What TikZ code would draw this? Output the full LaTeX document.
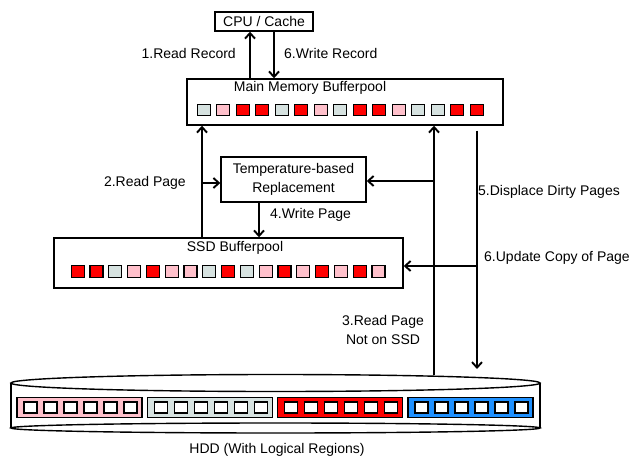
\documentclass[tikz,border=0pt]{standalone}
\usepackage{fontspec}
\setmainfont{Liberation Sans}
\usetikzlibrary{arrows.meta}
\definecolor{pk}{RGB}{255,192,203}
\definecolor{gy}{RGB}{214,226,224}
\definecolor{rd}{RGB}{255,0,0}
\definecolor{bl}{RGB}{30,144,255}
\begin{document}
\begin{tikzpicture}[x=1pt,y=-1pt,font=\fontsize{14}{19}\selectfont,
  box/.style={draw,line width=1.4pt,inner sep=0pt},
  arr/.style={line width=2pt,-{Straight Barb[length=5.5pt,width=10pt,line width=1.9pt]}},
  lbl/.style={inner sep=0pt},
  sq/.style={draw,line width=1.2pt,minimum width=13pt,minimum height=11.5pt,inner sep=0pt},
  region/.style={draw,line width=1.3pt,minimum width=125pt,minimum height=20pt,inner sep=0pt},
  hsq/.style={draw,fill=white,line width=1.3pt,minimum width=13pt,minimum height=11pt,inner sep=0pt},
  cyl/.style={line width=1.4pt}]
\useasboundingbox (0,0) rectangle (637,460);

% boxes
\node[box,minimum width=98pt,minimum height=19pt] (cpu) at (264,21.5) {CPU / Cache};
\node[box,minimum width=316pt,minimum height=46pt] (mm) at (345,102) {};
\node[lbl] (mmt) at (310,88) {Main Memory Bufferpool};
\foreach \c [count=\i from 0] in {gy,pk,rd,rd,gy,rd,pk,gy,rd,rd,pk,gy,gy,rd,rd}
  \node[sq,fill=\c] (m\i) at (203.75+19.5*\i,110) {};

\node[box,minimum width=145pt,minimum height=45pt,align=center] (tmp) at (293.5,179.5) {Temperature-based\\Replacement};

\node[box,minimum width=349pt,minimum height=50pt] (ssd) at (228.5,263) {};
\node[lbl] (ssdt) at (235,248) {SSD Bufferpool};
\foreach \c [count=\i from 0] in {rd,rd,gy,pk,rd,pk,pk,gy,rd,gy,pk,rd,pk,rd,pk,rd,pk}
  \node[sq,fill=\c] (s\i) at (77.65+18.8*\i,271.5) {};

% HDD cylinder
\draw[cyl] (11,383) -- (11,428);
\draw[cyl] (540,383) -- (540,428);
\draw[cyl] (275.5,428) ellipse [x radius=264.5pt,y radius=5pt];
\draw[cyl] (275.5,383) ellipse [x radius=264.5pt,y radius=8.5pt];
\foreach \c [count=\i from 0] in {pk,gy,rd,bl}{
  \node[region,fill=\c] (r\i) at (79.5+130.3*\i,407.5) {};
  \foreach \j in {0,...,5}
    \node[hsq] (h\i\j) at (30.5+130.3*\i+20*\j,407.5) {};
}
\node[lbl] (hddt) at (277,450) {HDD (With Logical Regions)};
\coordinate (hddA) at (434,375);
\coordinate (hddB) at (477,369);

% x positions
\coordinate (x1) at (250,0);
\coordinate (x2) at (274,0);
\coordinate (x3) at (202,0);
\coordinate (x4) at (259,0);
\coordinate (t2) at ([yshift=-3.5pt]tmp.west);
\coordinate (t1) at ([yshift=-1.5pt]tmp.east);
\coordinate (s1) at ([yshift=-3pt]ssd.east);
\coordinate (m1) at ([yshift=-5pt]mm.south -| hddB);

% connectors
\draw[arr] (mm.north -| x1) -- (cpu.south -| x1);
\draw[arr] (cpu.south -| x2) -- (mm.north -| x2);
\draw[arr] (ssd.north -| x3) -- (mm.south -| x3);
\draw[arr] (t2 -| x3) -- (t2);
\draw[arr] (tmp.south -| x4) -- (ssd.north -| x4);
\draw[arr] (hddA) -- (mm.south -| hddA);
\draw[arr] (hddA |- t1) -- (t1);
\draw[arr] (m1) -- (hddB);
\draw[arr] (hddB |- s1) -- (s1);

% labels
\node[lbl,anchor=east] (l1) at (236,53) {1.Read Record};
\node[lbl,anchor=west] (l6) at (284,53) {6.Write Record};
\node[lbl,anchor=east] (l2) at (186,183) {2.Read Page};
\node[lbl,anchor=west] (l4) at (270,215) {4.Write Page};
\node[lbl,anchor=west] (l5) at (478,192) {5.Displace Dirty Pages};
\node[lbl,anchor=west] (l6b) at (484,258) {6.Update Copy of Page};
\node[lbl,align=center] (l3) at (383,330) {3.Read Page\\Not on SSD};
\end{tikzpicture}
\end{document}
